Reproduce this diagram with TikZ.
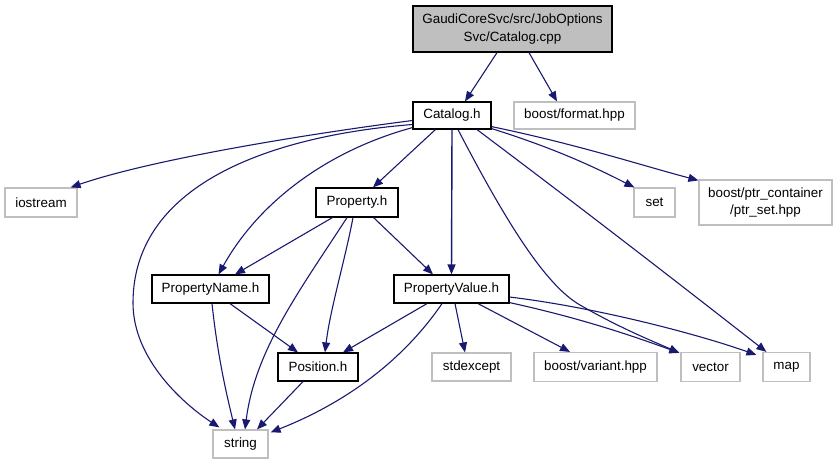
\documentclass[tikz,border=0pt]{standalone}
\usepackage{fontspec}
\setmainfont{Liberation Sans}
\usetikzlibrary{arrows.meta,calc}
\definecolor{edgec}{HTML}{191970}
\definecolor{lgray}{HTML}{BFBFBF}
\tikzset{
  box/.style={draw=black,line width=1.2pt,fill=white,inner sep=0pt,align=center,font=\fontsize{13.4}{17.5}\selectfont},
  gbox/.style={box,draw=lgray},
  rootbox/.style={box,fill=lgray},
  dep/.style={draw=edgec,line width=1.1pt,-{Triangle[length=10pt,width=8pt]}},
}
\begin{document}
\begin{tikzpicture}[x=1pt,y=-1pt]
\useasboundingbox (0,0) rectangle (837,464);
\node[rootbox,minimum width=199pt,minimum height=46pt] (cpp) at (512.5,29) {GaudiCoreSvc/src/JobOptions\\Svc/Catalog.cpp};
\node[box,minimum width=78pt,minimum height=27pt] (cat) at (452,115.5) {Catalog.h};
\node[gbox,minimum width=121pt,minimum height=27pt] (fmt) at (574.5,115.5) {boost/format.hpp};
\node[gbox,minimum width=72pt,minimum height=29pt] (ios) at (41,202.5) {iostream};
\node[box,minimum width=82pt,minimum height=29pt] (prop) at (357,202.5) {Property.h};
\node[gbox,minimum width=41pt,minimum height=29pt] (set) at (654.5,202.5) {set};
\node[gbox,minimum width=133pt,minimum height=45pt] (ptr) at (765.5,202.5) {boost/ptr\_container\\/ptr\_set.hpp};
\node[box,minimum width=117pt,minimum height=28pt] (pn) at (210.5,289) {PropertyName.h};
\node[box,minimum width=115pt,minimum height=28pt] (pv) at (451.5,289) {PropertyValue.h};
\node[box,minimum width=80pt,minimum height=28pt] (pos) at (318,367) {Position.h};
\node[gbox,minimum width=79pt,minimum height=28pt] (stde) at (471.5,367) {stdexcept};
\node[gbox,minimum width=123pt,minimum height=29pt] (var) at (595.5,367) {boost/variant.hpp};
\node[gbox,minimum width=59pt,minimum height=29pt] (vec) at (710.5,367) {vector};
\node[gbox,minimum width=47pt,minimum height=29pt] (map) at (786.5,367) {map};
\node[gbox,minimum width=55pt,minimum height=28pt] (str) at (240.5,444) {string};

% Catalog.cpp
\draw[dep] ($(cpp.south)+(-15.5,0)$) -- ($(cat.north)+(13,0)$);
\draw[dep] ($(cpp.south)+(16.5,0)$) -- ($(fmt.north)+(-17.5,0)$);
% Catalog.h
\draw[dep] ($(cat.west)+(0,5)$) .. controls (300,135) and (150,160) .. ($(ios.north east)+(-7,0)$);
\draw[dep] ($(cat.west)+(0,9)$) .. controls (280,135) and (133,180) .. (133,303) .. controls (133,360) and (185,405) .. ($(str.north west)+(7,-2)$);
\draw[dep] ($(cat.south west)+(0,-2)$) .. controls (330,150) and (260,200) .. ($(pn.north)+(8,0)$);
\draw[dep] ($(cat.south west)+(23,0)$) -- ($(prop.north)+(16,0)$);
\draw[dep,line width=1.4pt] (cat.south) -- (pv.north);
\draw[dep] ($(cat.south)+(6,0)$) .. controls (505,220) and (545,285) .. (580,305) .. controls (620,328) and (650,340) .. ($(vec.north west)+(-1,1)$);
\draw[dep] ($(cat.south)+(25,0)$) .. controls (600,222) and (700,300) .. ($(map.north west)+(4,0)$);
\draw[dep] ($(cat.south east)+(0,-1)$) .. controls (560,150) and (600,170) .. ($(set.north west)+(1,0)$);
\draw[dep] ($(cat.south east)+(0,-3)$) .. controls (580,145) and (640,165) .. ($(ptr.north west)+(0,1)$);
% Property.h
\draw[dep] ($(prop.south west)+(17,0)$) -- ($(pn.north)+(24.5,0)$);
\draw[dep] ($(prop.south)+(-10,0)$) .. controls (300,290) and (255,350) .. ($(str.north)+(4.5,0)$);
\draw[dep] ($(prop.south)+(-4,0)$) .. controls (345,260) and (330,310) .. ($(pos.north)+(7,0)$);
\draw[dep] ($(prop.south east)+(-25,0)$) -- ($(pv.north)+(-18.5,0)$);
% PropertyName.h
\draw[dep] ($(pn.south)+(1.5,0)$) .. controls (218,360) and (228,400) .. ($(str.north)+(-5.5,0)$);
\draw[dep] ($(pn.south)+(19.5,0)$) -- ($(pos.north)+(-20,0)$);
% PropertyValue.h
\draw[dep] ($(pv.south)+(-24.5,0)$) -- ($(pos.north)+(25,0)$);
\draw[dep] ($(pv.south)+(-9.5,0)$) .. controls (400,365) and (340,405) .. ($(str.north east)+(2,3)$);
\draw[dep] ($(pv.south)+(3.5,0)$) -- ($(stde.north)+(-6.5,0)$);
\draw[dep] ($(pv.south)+(26.5,0)$) -- ($(var.north)+(-25.5,0)$);
\draw[dep] ($(pv.south east)+(0,-1)$) .. controls (580,318) and (630,335) .. ($(vec.north west)+(-1,1)$);
\draw[dep] ($(pv.east)+(0,8)$) .. controls (600,308) and (700,335) .. ($(map.north west)+(-6,3)$);
% Position.h
\draw[dep] ($(pos.south)+(-15,0)$) -- ($(str.north)+(16.5,0)$);
\end{tikzpicture}
\end{document}
